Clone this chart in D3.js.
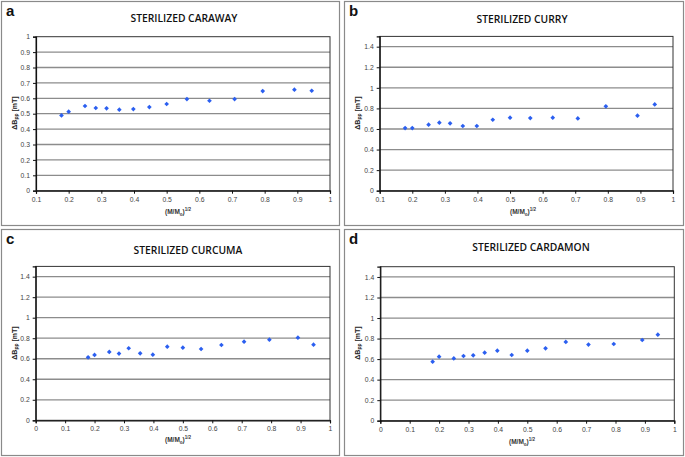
<!DOCTYPE html>
<html><head><meta charset="utf-8">
<script src="https://cdn.jsdelivr.net/npm/d3@7"></script>
<style>
html,body{margin:0;padding:0;background:#fff;}
svg{display:block;}
</style></head>
<body><svg id="c" width="685" height="457"></svg>
<script>
// ---- data ----
const xValues = [0.178, 0.2, 0.25, 0.283, 0.316, 0.355, 0.398, 0.447, 0.5, 0.562, 0.631, 0.708, 0.794, 0.891, 0.944];
const carawayValues = [0.489, 0.513, 0.550, 0.537, 0.535, 0.526, 0.530, 0.543, 0.563, 0.595, 0.584, 0.595, 0.647, 0.656, 0.649];
const curryValues = [0.609, 0.609, 0.642, 0.661, 0.655, 0.629, 0.629, 0.690, 0.710, 0.706, 0.710, 0.703, 0.820, 0.729, 0.839];
const curcumaValues = [0.614, 0.637, 0.666, 0.650, 0.702, 0.653, 0.640, 0.718, 0.708, 0.695, 0.734, 0.766, 0.786, 0.805, 0.737];
const cardamonValues = [0.575, 0.624, 0.607, 0.630, 0.637, 0.663, 0.682, 0.640, 0.682, 0.705, 0.767, 0.741, 0.747, 0.786, 0.838];
const panelLetters = ["a", "b", "c", "d"];
const panelTitles = ["STERILIZED CARAWAY", "STERILIZED CURRY", "STERILIZED CURCUMA", "STERILIZED CARDAMON"];
const xTicksA = [0.1, 0.2, 0.3, 0.4, 0.5, 0.6, 0.7, 0.8, 0.9, 1];
const xTicksC = [0, 0.1, 0.2, 0.3, 0.4, 0.5, 0.6, 0.7, 0.8, 0.9, 1];
const yTicksA = [0, 0.1, 0.2, 0.3, 0.4, 0.5, 0.6, 0.7, 0.8, 0.9, 1];
const yTicksB = [0, 0.2, 0.4, 0.6, 0.8, 1, 1.2, 1.4];

const panels = [
  {frame:[1,1,339,225], plot:{l:36,r:330,t:36.7,b:190.7}, xd:[0.1,1], yd:[0,1], xt:xTicksA, yt:yTicksA, vals:carawayValues, title:[184,18], ylab:[14,113], xlab:[178,212]},
  {frame:[344,1,340,225], plot:{l:379.7,r:673,t:36.4,b:190.7}, xd:[0.1,1], yd:[0,1.5], xt:xTicksA, yt:yTicksB, vals:curryValues, title:[522,19], ylab:[357,113], xlab:[523,212]},
  {frame:[1,229,339,227], plot:{l:35.7,r:330,t:266.4,b:420.3}, xd:[0,1], yd:[0,1.5], xt:xTicksC, yt:yTicksB, vals:curcumaValues, title:[188,250], ylab:[14,343], xlab:[178,440]},
  {frame:[344,229,340,227], plot:{l:380.3,r:674.3,t:266.7,b:420.7}, xd:[0,1], yd:[0,1.5], xt:xTicksC, yt:yTicksB, vals:cardamonValues, title:[531,247], ylab:[357,343], xlab:[522,442]}
];

const svg = d3.select("#c");
svg.append("rect").attr("x",0).attr("y",0).attr("width",685).attr("height",457).attr("fill","#fff");

panels.forEach((p,i)=>{
  const g = svg.append("g");
  const [fx,fy,fw,fh] = p.frame;
  g.append("rect").attr("x",fx+0.5).attr("y",fy+0.5).attr("width",fw-1).attr("height",fh-1)
    .attr("fill","none").attr("stroke","#8a8a8a").attr("stroke-width",1.2);
  g.append("text").attr("x",fx+5).attr("y",fy+15).text(panelLetters[i])
    .attr("font-family","Liberation Sans, Arial, sans-serif").attr("font-weight","bold").attr("font-size",15).attr("fill","#111");
  g.append("text").attr("x",p.title[0]).attr("y",p.title[1]+3.8).attr("text-anchor","middle").text(panelTitles[i])
    .attr("font-family","Open Sans, sans-serif").attr("font-weight",600).attr("font-size",10.3).attr("fill","#111");

  const x = d3.scaleLinear().domain(p.xd).range([p.plot.l,p.plot.r]);
  const y = d3.scaleLinear().domain(p.yd).range([p.plot.b,p.plot.t]);

  // gridlines
  g.append("g").selectAll("line").data(p.yt.filter(v=>v>0 && v<p.yd[1]-1e-9)).join("line")
    .attr("x1",p.plot.l).attr("x2",p.plot.r).attr("y1",d=>y(d)).attr("y2",d=>y(d))
    .attr("stroke","#8c8c8c").attr("stroke-width",1.3);
  // plot frame
  g.append("rect").attr("x",p.plot.l).attr("y",p.plot.t).attr("width",p.plot.r-p.plot.l).attr("height",p.plot.b-p.plot.t)
    .attr("fill","none").attr("stroke","#333").attr("stroke-width",1);

  const xAxis = d3.axisBottom(x).tickValues(p.xt).tickSize(3).tickPadding(3).tickFormat(d3.format("~g"));
  const yAxis = d3.axisLeft(y).tickValues(p.yt).tickSize(3).tickPadding(3).tickFormat(d3.format("~g"));
  const gx = g.append("g").attr("transform",`translate(0,${p.plot.b})`).call(xAxis);
  const gy = g.append("g").attr("transform",`translate(${p.plot.l},0)`).call(yAxis);
  [gx,gy].forEach(a=>{
    a.select(".domain").attr("stroke","#111").attr("stroke-width",1.2);
    a.selectAll(".tick line").attr("stroke","#111");
    a.selectAll(".tick text").attr("font-family","Liberation Sans, Arial, sans-serif").attr("font-size",6.8).attr("fill","#444");
  });

  // axis labels
  const yl = g.append("text").attr("transform",`translate(${p.ylab[0]+2.5},${p.ylab[1]}) rotate(-90)`).attr("text-anchor","middle")
    .attr("font-family","Liberation Sans, Arial, sans-serif").attr("font-weight","bold").attr("font-size",7).attr("fill","#222");
  yl.append("tspan").text("ΔB");
  yl.append("tspan").attr("font-size",5).attr("dy",1.8).text("pp");
  yl.append("tspan").attr("dy",-1.8).text(" [mT]");
  const xl = g.append("text").attr("x",p.xlab[0]).attr("y",p.xlab[1]+2).attr("text-anchor","middle")
    .attr("font-family","Liberation Sans, Arial, sans-serif").attr("font-weight","bold").attr("font-size",6.5).attr("fill","#333");
  xl.append("tspan").text("(M/M");
  xl.append("tspan").attr("font-size",4.5).attr("dy",1.5).text("o");
  xl.append("tspan").attr("dy",-1.5).text(")");
  xl.append("tspan").attr("font-size",4.5).attr("dy",-3).text("1/2");

  // points
  g.append("g").selectAll("path").data(p.vals).join("path")
    .attr("transform",(d,j)=>`translate(${x(xValues[j])},${y(d)}) rotate(45)`)
    .attr("d", d3.symbol().type(d3.symbolSquare).size(11))
    .attr("fill","#2b5ff0");
});
</script></body></html>
